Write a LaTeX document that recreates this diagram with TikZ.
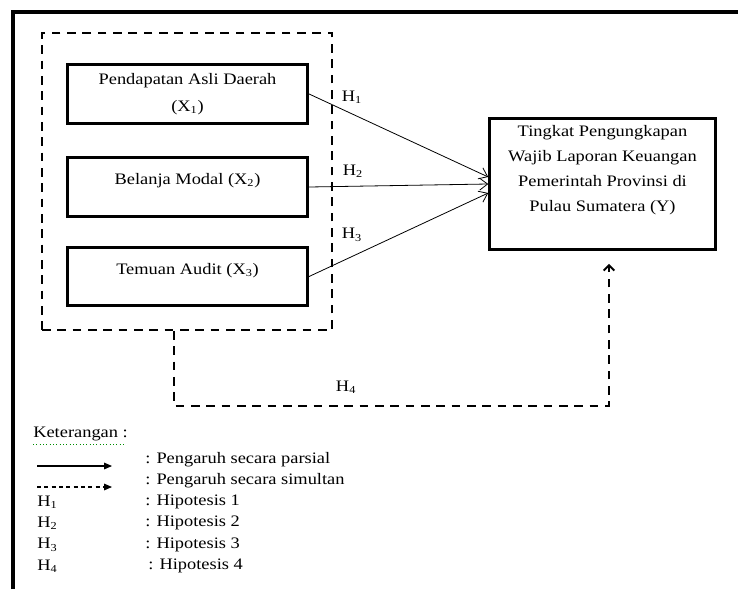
\documentclass[tikz,border=0pt]{standalone}
\usepackage{fontspec}
\setmainfont[FakeStretch=1.15]{Liberation Serif}
\usetikzlibrary{arrows.meta}
\begin{document}
\begin{tikzpicture}[x=0.75pt,y=-0.75pt,
    font=\fontsize{12}{20}\selectfont,
    varbox/.style={draw=black,line width=2.4pt,minimum width=180pt,minimum height=44pt,inner sep=0pt,align=center},
    ybox/.style={draw=black,line width=2.4pt,inner sep=0pt},
    grpbox/.style={draw=black,line width=1.4pt,dash pattern=on 6.5pt off 5pt,minimum width=217.5pt,minimum height=222.75pt},
    parsial/.style={line width=0.6pt,-{Straight Barb[length=6pt,width=9pt]}},
    simultan/.style={line width=1.4pt,dash pattern=on 6.5pt off 5pt,-{Straight Barb[length=4pt,width=8pt,line width=1.4pt]}},
    hlabel/.style={inner sep=0pt},
    legtext/.style={anchor=west,inner sep=0pt}]
            \useasboundingbox (0,0) rectangle (738,589);
            % frame
            \draw[line width=2.4pt] (13,589) -- (13,12) -- (738,12);

            % boxes
            \node[grpbox] (grp) at (187,181.5) {};
            \node[varbox] (x1) at (187.5,94) {Pendapatan Asli Daerah\\(X\textsubscript{1})};
            \node[varbox] (x2) at (187.5,187) {Belanja Modal (X\textsubscript{2})\\[-8pt]};
            \node[varbox] (x3) at (187.5,276.5) {Temuan Audit (X\textsubscript{3})\\[-8pt]};
            \node[ybox] (y) at (602.5,184) {\parbox[c][98pt][t]{169pt}{\centering\fontsize{12}{18.75}\selectfont\vspace*{5pt}Tingkat Pengungkapan\\Wajib Laporan Keuangan\\Pemerintah Provinsi di\\Pulau Sumatera (Y)}};

            % arrows
            \path [parsial] (x1.east) edge ([yshift=5.25pt]y.west);
            \path [parsial] (x2.east) edge (y.west);
            \path [parsial] (x3.east) edge ([yshift=-6.75pt]y.west);
            \draw [simultan] ([xshift=-9.75pt]grp.south) -- ++(0,75) -| ([xshift=4.9pt,yshift=-9.75pt]y.south);
            \node[hlabel] (h1) at (352,97) {H\textsubscript{1}};
            \node[hlabel] (h2) at (353,171) {H\textsubscript{2}};
            \node[hlabel] (h3) at (352,235) {H\textsubscript{3}};
            \node[hlabel] (h4) at (346,387) {H\textsubscript{4}};

            % legend
            \node[legtext] (ket) at (33,434) {Keterangan :};
            \draw[green!55!black,line width=0.5pt,dotted] ([yshift=-2pt]ket.south west) -- ++(91,0);
            \coordinate (s1) at (37,466);
            \coordinate (s2) at (112,466);
            \coordinate (d1) at (37,487);
            \coordinate (d2) at (112,487);
            \draw[line width=0.8pt,-{Triangle[length=6pt,width=5pt]}] (s1) -- (s2);
            \draw[line width=0.8pt,dash pattern=on 3pt off 2.5pt,-{Triangle[length=6pt,width=5pt]}] (d1) -- (d2);
            \node[legtext] (lp) at (145,460) {: Pengaruh secara parsial};
            \node[legtext] (ls) at (145,481) {: Pengaruh secara simultan};
            \node[legtext] (k1) at (37,502) {H\textsubscript{1}};
            \node[legtext] (k2) at (37,523) {H\textsubscript{2}};
            \node[legtext] (k3) at (37,545) {H\textsubscript{3}};
            \node[legtext] (k4) at (37,566) {H\textsubscript{4}};
            \node[legtext] (t1) at (145,502) {: Hipotesis 1};
            \node[legtext] (t2) at (145,523) {: Hipotesis 2};
            \node[legtext] (t3) at (145,545) {: Hipotesis 3};
            \node[legtext] (t4) at (148,566) {: Hipotesis 4};
        \end{tikzpicture}
\end{document}
